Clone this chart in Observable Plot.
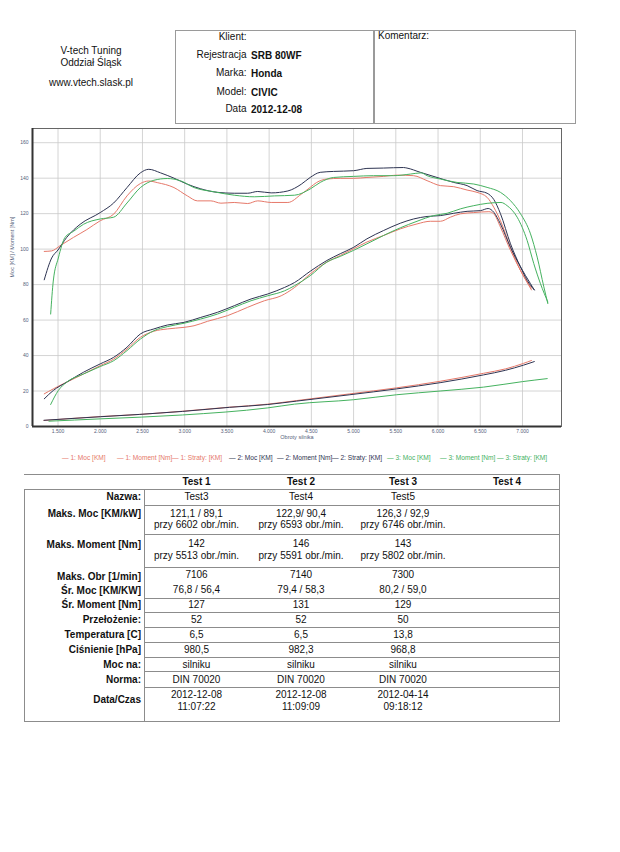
<!DOCTYPE html>
<html><head><meta charset="utf-8">
<script src="https://cdn.jsdelivr.net/npm/d3@7"></script>
<script src="https://cdn.jsdelivr.net/npm/@observablehq/plot@0.6"></script>
<style>
body{margin:0;background:#fff;font-family:"Liberation Sans",Arial,sans-serif;color:#111}
#page{position:relative;width:620px;height:852px;overflow:hidden}
.a{position:absolute;white-space:nowrap}
.box{position:absolute;border:1px solid #9a9a9a}
.ln{position:absolute;background:#8c8c8c}
</style></head>
<body><div id="page"></div>
<script>
// ---------- DATA ----------
const xTicks = [1500,2000,2500,3000,3500,4000,4500,5000,5500,6000,6500,7000];
const yTicks = [0,20,40,60,80,100,120,140,160];
const seriesNames = ["1","2","3"];
const seriesColors = ["#e6796a","#2e3452","#45b25f"];

// Test 1 (red)
const moment1 = [[1337,98.7],[1425,99],[1524,101.9],[1683,106.6],[1841,111],[2000,116],[2159,119.7],[2317,130],[2476,137],[2575,138.4],[2675,137.5],[2873,134.7],[3032,130],[3151,127.2],[3310,127.2],[3429,125.9],[3587,126.3],[3746,125.7],[3865,127.2],[4024,126.3],[4222,126.3],[4381,131],[4486,134.8],[4560,137.5],[4684,139.5],[4842,139.9],[5000,139.9],[5158,140.4],[5356,141],[5513,141.7],[5711,141.4],[5870,138.6],[6028,135.8],[6186,135.2],[6344,133.3],[6462,132],[6581,129.2],[6660,123.6],[6739,116],[6858,101],[6976,88],[7106,78]];
const moc1 = [[1337,18.4],[1444,21.2],[1603,25],[1802,29.6],[2000,34.3],[2159,38],[2317,43.7],[2476,50.3],[2635,53.7],[2794,55],[2992,55.9],[3111,56.8],[3270,59.3],[3508,62.5],[3746,67.2],[3944,70.9],[4143,73.7],[4302,78.4],[4486,86],[4684,92.7],[4842,96.4],[5000,100.2],[5158,104],[5356,107.7],[5553,111.4],[5751,114.2],[5909,115.7],[6028,115.7],[6146,118],[6265,119.9],[6423,120.6],[6602,121.1],[6660,119.9],[6739,112.4],[6858,99.3],[6976,88],[7106,77]];
const straty1 = [[1334,3.4],[2000,5.6],[2462,6.8],[2973,8.6],[3531,10.9],[3984,12.6],[4323,14.6],[4956,18.4],[5510,21.8],[6025,25.5],[6540,30],[6800,32.5],[7013,35.6],[7106,37.2]];

// Test 2 (dark)
const moment2 = [[1337,82.7],[1425,95],[1500,99.5],[1603,106.6],[1762,114],[2000,120.6],[2159,126],[2317,134.7],[2476,143],[2575,145],[2714,143],[2873,140],[3032,136.6],[3190,134],[3389,132],[3587,131.5],[3746,131.5],[3865,132.5],[4024,131.7],[4222,132.8],[4381,136.6],[4486,140.4],[4605,143.3],[4763,143.8],[5000,144.2],[5158,145.5],[5356,145.7],[5591,146],[5632,145.7],[5790,143.3],[5988,140.4],[6186,137.6],[6344,135.8],[6462,133],[6581,131.5],[6660,128],[6739,120],[6858,103],[6976,90],[7055,82.4],[7140,77]];
const moc2 = [[1337,15.6],[1444,20.3],[1603,25],[1802,30.6],[2000,35.3],[2159,39],[2317,44.7],[2476,52.2],[2635,55],[2794,57.2],[2992,58.7],[3190,61.5],[3389,64.4],[3587,68.1],[3786,71.9],[3984,74.7],[4183,78.4],[4302,81.2],[4486,87.5],[4684,93.6],[4842,97.4],[5000,101],[5158,105.8],[5356,110.5],[5553,114.6],[5711,117],[5870,118.4],[6028,118.9],[6186,120.2],[6344,121.3],[6502,121.7],[6593,122.9],[6660,120.8],[6739,114.2],[6858,101],[6976,90],[7095,80.5],[7140,77]];
const straty2 = [[1334,3.5],[2000,5.5],[2462,6.8],[2973,8.5],[3531,10.8],[3984,12.4],[4323,14.3],[4956,17.9],[5510,21.2],[6025,24.7],[6540,29.1],[6800,31.7],[7013,34.6],[7140,36.6]];

// Test 3 (green)
const moment3 = [[1413,63.4],[1444,82],[1504,95],[1583,106.6],[1683,110],[1802,114],[2000,117],[2159,118],[2317,126],[2476,134.7],[2635,138.8],[2794,139.8],[2952,138.5],[3111,134.7],[3349,132.3],[3587,130.4],[3825,129.5],[4063,130],[4302,130.4],[4486,133.9],[4605,137.6],[4763,140.4],[5000,141],[5237,141.4],[5474,141.4],[5672,142.3],[5802,143],[5870,141.4],[6028,139.5],[6225,137.6],[6423,136.7],[6581,134.8],[6739,132],[6858,127.3],[6976,120],[7095,108.6],[7174,95.5],[7253,78.7],[7300,69.3]];
const moc3 = [[1413,12.4],[1504,20.3],[1603,25],[1802,29.6],[2000,33.8],[2159,37.1],[2317,42.8],[2476,49.3],[2635,54],[2794,56.3],[2992,58.2],[3190,60.6],[3389,63.4],[3587,67.2],[3786,70.9],[3984,73.7],[4183,76.5],[4302,79.4],[4486,85],[4684,92.7],[4842,95.9],[5000,99.3],[5158,103],[5356,107.7],[5553,112],[5751,115.7],[5949,118.9],[6107,120.2],[6265,122.7],[6423,124.5],[6581,125.8],[6746,126.3],[6818,124.5],[6937,118],[7055,104.9],[7134,91.8],[7213,80.5],[7300,70.2]];
const straty3 = [[1393,3],[2000,4.3],[2973,6.5],[3984,10.5],[4300,12.6],[5000,15.1],[5510,17.9],[6025,20],[6540,22.2],[7000,25.3],[7293,27]];

// Legend
const legendLabels = ["— 1: Moc [KM]","— 1: Moment [Nm]","— 1: Straty: [KM]","— 2: Moc [KM]","— 2: Moment [Nm]","— 2: Straty: [KM]","— 3: Moc [KM]","— 3: Moment [Nm]","— 3: Straty: [KM]"];

// Header
const headerLeft = ["V-tech Tuning","Oddział Śląsk","www.vtech.slask.pl"];
const infoLabels = ["Klient:","Rejestracja","Marka:","Model:","Data"];
const infoValues = ["","SRB 80WF","Honda","CIVIC","2012-12-08"];
const commentLabel = "Komentarz:";

// Table
const testHeaders = ["Test 1","Test 2","Test 3","Test 4"];
const rowLabels = ["Nazwa:","Maks. Moc [KM/kW]","Maks. Moment [Nm]","Maks. Obr [1/min]","Śr. Moc [KM/KW]","Śr. Moment [Nm]","Przełożenie:","Temperatura [C]","Ciśnienie [hPa]","Moc na:","Norma:","Data/Czas"];
const nazwa = ["Test3","Test4","Test5",""];
const maksMoc = [["121,1 / 89,1","przy 6602 obr./min."],["122,9/ 90,4","przy 6593 obr./min."],["126,3 / 92,9","przy 6746 obr./min."],[""]];
const maksMoment = [["142","przy 5513 obr./min."],["146","przy 5591 obr./min."],["143","przy 5802 obr./min."],[""]];
const maksObr = ["7106","7140","7300",""];
const srMoc = ["76,8 / 56,4","79,4 / 58,3","80,2 / 59,0",""];
const srMoment = ["127","131","129",""];
const przelozenie = ["52","52","50",""];
const temperatura = ["6,5","6,5","13,8",""];
const cisnienie = ["980,5","982,3","968,8",""];
const mocNa = ["silniku","silniku","silniku",""];
const norma = ["DIN 70020","DIN 70020","DIN 70020",""];
const dataCzas = [["2012-12-08","11:07:22"],["2012-12-08","11:09:09"],["2012-04-14","09:18:12"],[""]];

// ---------- BUILD ----------
const page = document.getElementById("page");
function txt(s, x, cy, opts = {}) {
  const d = document.createElement("div");
  d.className = "a";
  const lh = opts.lh || 12;
  d.style.top = (cy - lh/2) + "px";
  d.style.lineHeight = lh + "px";
  d.style.fontSize = (opts.fs || 10) + "px";
  if (opts.bold) d.style.fontWeight = "bold";
  if (opts.color) d.style.color = opts.color;
  if (opts.align === "right") { d.style.right = (620 - x) + "px"; d.style.textAlign = "right"; }
  else if (opts.align === "center") { d.style.left = (x - 100) + "px"; d.style.width = "200px"; d.style.textAlign = "center"; }
  else d.style.left = x + "px";
  d.textContent = s;
  page.appendChild(d);
  return d;
}
function line(x, y, w, h) {
  const d = document.createElement("div");
  d.className = "ln";
  d.style.left = x + "px"; d.style.top = y + "px";
  d.style.width = w + "px"; d.style.height = h + "px";
  page.appendChild(d);
}

// Header
[50.7, 63.3, 83.3].forEach((cy, i) => txt(headerLeft[i], 91, cy, {align: "center"}));
const b1 = document.createElement("div"); b1.className = "box";
Object.assign(b1.style, {left: "175px", top: "30px", width: "197px", height: "92px"}); page.appendChild(b1);
const b2 = document.createElement("div"); b2.className = "box";
Object.assign(b2.style, {left: "374px", top: "30px", width: "200px", height: "92px"}); page.appendChild(b2);
[36.7, 55, 73.3, 91.7, 108.8].forEach((cy, i) => {
  txt(infoLabels[i], 246.5, cy, {align: "right"});
  txt(infoValues[i], 251, cy + 0.8, {bold: true});
});
txt(commentLabel, 378, 35.5);

// Chart
const rows = [];
const curves = [[moment1,moc1,straty1],[moment2,moc2,straty2],[moment3,moc3,straty3]];
curves.forEach((set, si) => set.forEach((arr, ki) => arr.forEach(([rpm, v]) =>
  rows.push({test: seriesNames[si], key: seriesNames[si] + "-" + ki, rpm, v}))));

const xDomain = [1198, 7462];
const fmt = d => d3.format(",")(d).replace(/,/g, ".");
const chart = Plot.plot({
  width: 620, height: 325,
  marginTop: 8, marginBottom: 19, marginLeft: 32, marginRight: 59,
  x: {domain: xDomain},
  y: {domain: [0, 168]},
  color: {domain: seriesNames, range: seriesColors},
  style: {fontFamily: "'Liberation Sans', Arial, sans-serif", background: "transparent", overflow: "visible"},
  marks: [
    Plot.gridX(xTicks, {stroke: "#c9c9c9", strokeOpacity: 1, strokeWidth: 0.8}),
    Plot.gridY(yTicks, {stroke: "#c9c9c9", strokeOpacity: 1, strokeWidth: 0.8}),
    Plot.line(rows, {x: "rpm", y: "v", z: "key", stroke: "test", strokeWidth: 1, curve: "monotone-x"}),
    Plot.frame({stroke: "#666", strokeWidth: 1}),
    Plot.ruleY([0], {stroke: "#333", strokeWidth: 2}),
    Plot.ruleX([xDomain[0]], {stroke: "#333", strokeWidth: 2}),
    Plot.axisX(xTicks, {tickSize: 0, tickPadding: 3, fontSize: 5, fill: "#55607a", tickFormat: fmt, label: null}),
    Plot.axisY(yTicks, {tickSize: 0, tickPadding: 4, fontSize: 5, fill: "#55607a", label: null}),
    Plot.text(["Obroty silnika"], {text: d => d, frameAnchor: "bottom", dy: 12, fontSize: 5.5, fill: "#55607a"}),
    Plot.text(["Moc [KM] / Moment [Nm]"], {text: d => d, frameAnchor: "left", dx: -20, rotate: -90, fontSize: 5.5, fill: "#55607a"})
  ]
});
const holder = document.createElement("div");
holder.style.position = "absolute"; holder.style.left = "0px"; holder.style.top = "120px";
holder.appendChild(chart);
page.appendChild(holder);

// Legend
const legendX = [62,117,172,229,277,332,387,440,497];
const legendColors = ["#e6796a","#e6796a","#e6796a","#2e3452","#2e3452","#2e3452","#45b25f","#45b25f","#45b25f"];
legendLabels.forEach((s, i) => txt(s, legendX[i], 458, {fs: 6.6, color: legendColors[i], lh: 8}));

// Table
const colX = [196.5, 301, 403, 507];
const labelRight = 141;
testHeaders.forEach((s, i) => txt(s, colX[i], 481.5, {bold: true, align: "center"}));
const tableRows = [
  {vals: nazwa, label: 497, ys: [497]},
  {vals: maksMoc, label: 514, ys: [513.5, 525]},
  {vals: maksMoment, label: 545, ys: [543.5, 555.5]},
  {vals: maksObr, label: 576.5, ys: [575]},
  {vals: srMoc, label: 590.5, ys: [590]},
  {vals: srMoment, label: 604.5, ys: [604.5]},
  {vals: przelozenie, label: 619.5, ys: [619.5]},
  {vals: temperatura, label: 634.5, ys: [634.5]},
  {vals: cisnienie, label: 649.5, ys: [649.5]},
  {vals: mocNa, label: 664.5, ys: [664.5]},
  {vals: norma, label: 679.5, ys: [679.5]},
  {vals: dataCzas, label: 700, ys: [694.5, 706.5]}
];
tableRows.forEach((r, ri) => {
  txt(rowLabels[ri], labelRight, r.label, {bold: true, align: "right"});
  r.vals.forEach((v, ci) => {
    const lines = Array.isArray(v) ? v : [v];
    lines.forEach((s, li) => { if (s) txt(s, colX[ci], r.ys[li], {align: "center"}); });
  });
});
// table lines
line(24, 474, 536, 1);
line(24, 489, 536, 1);
[505, 534, 567, 598, 612, 627, 642, 657, 671, 687].forEach(y => line(144, y, 416, 1));
line(24, 721, 536, 1);
line(24, 489, 1, 233);
line(144, 489, 1, 233);
line(559, 474, 1, 248);
</script>
</body></html>
